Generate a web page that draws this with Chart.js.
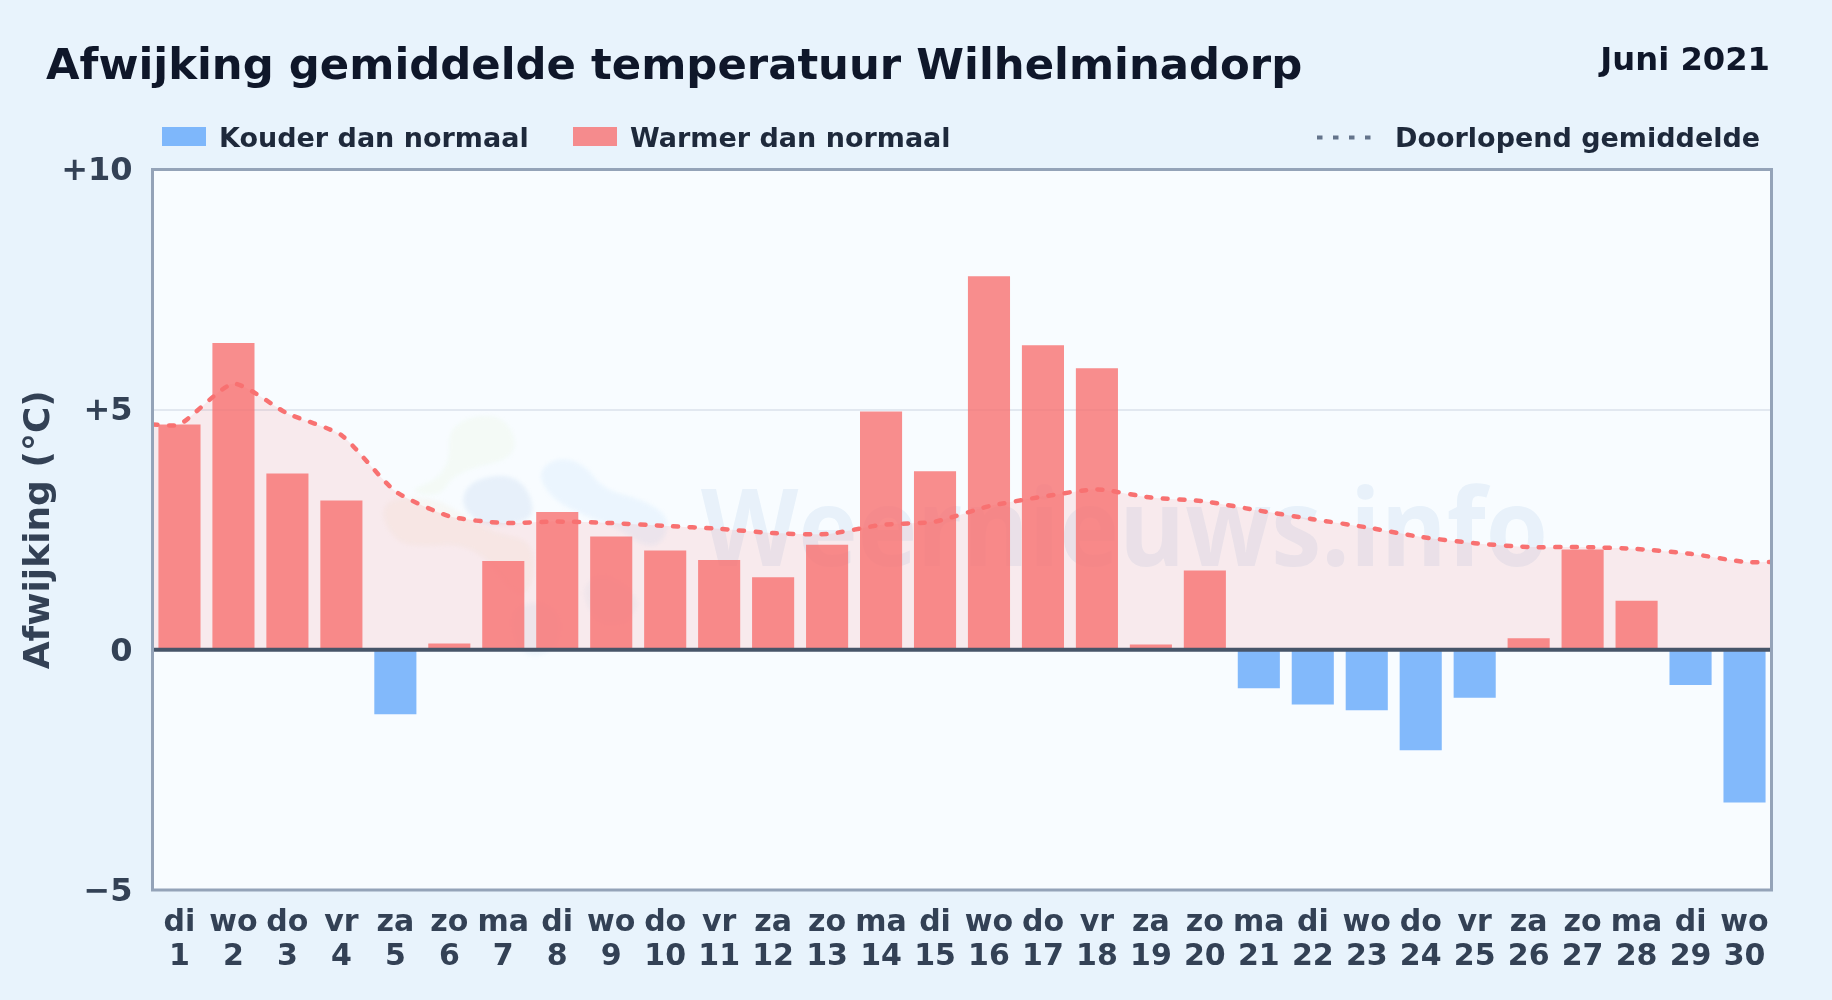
<!DOCTYPE html>
<html lang="nl">
<head>
<meta charset="utf-8">
<title>Afwijking gemiddelde temperatuur Wilhelminadorp</title>
<script src="https://cdn.jsdelivr.net/npm/chart.js@4"></script>
<style>
  html,body{margin:0;padding:0;width:1832px;height:1000px;overflow:hidden;background:#e8f3fc;font-family:"DejaVu Sans",sans-serif;font-weight:700}
  #wrap{position:relative;width:1832px;height:1000px}
  canvas{position:absolute;left:0;top:0}
  .t{position:absolute;white-space:nowrap;line-height:1}
  #title{left:46px;top:43px;font-size:43.35px;color:#0f172a}
  #month{right:62px;top:43px;font-size:32.2px;color:#0f172a}
  .lg{font-size:27px;color:#1e293b;top:123.5px}
  .sw{position:absolute;top:127px;width:43.5px;height:19px}
  #dots{position:absolute;left:1317px;top:134.5px}
</style>
</head>
<body>
<div id="wrap">
  <canvas id="c" width="1832" height="1000"></canvas>
  <div class="t" id="title">Afwijking gemiddelde temperatuur Wilhelminadorp</div>
  <div class="t" id="month">Juni 2021</div>
  <div class="sw" style="left:162px;background:rgba(96,165,250,.78)"></div>
  <div class="t lg" style="left:219px">Kouder dan normaal</div>
  <div class="sw" style="left:573px;background:rgba(248,113,113,.8)"></div>
  <div class="t lg" style="left:630px">Warmer dan normaal</div>
  <svg id="dots" width="60" height="5"><line x1="0" y1="2.5" x2="60" y2="2.5" stroke="#64748b" stroke-width="4" stroke-dasharray="5.5 10.5"/></svg>
  <div class="t lg" style="left:1395px">Doorlopend gemiddelde</div>
</div>
<script>
const weekdays = ['di','wo','do','vr','za','zo','ma','di','wo','do','vr','za','zo','ma','di','wo','do','vr','za','zo','ma','di','wo','do','vr','za','zo','ma','di','wo'];
const days = [1,2,3,4,5,6,7,8,9,10,11,12,13,14,15,16,17,18,19,20,21,22,23,24,25,26,27,28,29,30];
const deviation = [4.69,6.39,3.67,3.11,-1.34,0.13,1.85,2.87,2.36,2.07,1.87,1.51,2.19,4.96,3.72,7.78,6.34,5.86,0.11,1.65,-0.80,-1.14,-1.26,-2.09,-1.00,0.24,2.09,1.02,-0.73,-3.18];
const avgDays = [0.5,1,2,3,4,5,6,7,8,9,10,11,12,13,14,15,16,17,18,19,20,21,22,23,24,25,26,27,28,29,30,30.5];
const avgValues = [4.69,4.69,5.54,4.92,4.47,3.30,2.78,2.64,2.67,2.64,2.58,2.52,2.43,2.41,2.60,2.67,2.99,3.19,3.34,3.17,3.09,2.90,2.72,2.55,2.35,2.22,2.14,2.14,2.10,2.00,1.83,1.83];
const yTickLabels = {'10':'+10','5':'+5','0':'0','-5':'\u22125'};

const FONT = '"DejaVu Sans", sans-serif';

function blob(ctx, pts, color){
  const o = pts.map(p=>[360+p[0]/3, 400+p[1]/3]);
  ctx.beginPath();
  for(let i=0;i<o.length;i++){
    const a=o[i], b=o[(i+1)%o.length], m=[(a[0]+b[0])/2,(a[1]+b[1])/2];
    if(i===0){const z=o[o.length-1]; ctx.moveTo((z[0]+a[0])/2,(z[1]+a[1])/2);}
    ctx.quadraticCurveTo(a[0],a[1],m[0],m[1]);
  }
  ctx.closePath(); ctx.fillStyle=color; ctx.fill();
}
const backdrop = {
  id:'backdrop',
  beforeDraw(chart){
    const {ctx,chartArea:a}=chart;
    ctx.save();
    ctx.fillStyle='#f8fcff';
    ctx.fillRect(a.left,a.top,a.right-a.left,a.bottom-a.top);
    ctx.beginPath(); ctx.rect(a.left,a.top,a.right-a.left,a.bottom-a.top); ctx.clip();
    ctx.filter='blur(2px)';
    blob(ctx,[[265,90],[340,45],[430,50],[472,125],[445,180],[350,200],[275,230],[240,290],[140,275],[230,240],[270,180]],'rgba(225,240,200,.16)');
    blob(ctx,[[60,340],[100,290],[230,295],[300,340],[400,400],[520,420],[520,560],[470,590],[380,470],[290,430],[200,440],[110,430]],'rgba(240,220,175,.13)');
    blob(ctx,[[305,290],[340,240],[440,222],[500,260],[525,340],[480,370],[380,380],[320,340]],'rgba(150,185,225,.17)');
    blob(ctx,[[530,220],[590,172],[670,190],[730,270],[850,300],[925,350],[915,420],[860,445],[770,380],[680,350],[580,300]],'rgba(170,215,250,.17)');
    blob(ctx,[[660,570],[720,520],[800,560],[840,610],[800,670],[710,670]],'rgba(150,185,225,.09)');
    blob(ctx,[[450,640],[520,600],[600,640],[590,740],[540,770],[480,760]],'rgba(150,185,225,.1)');
    ctx.filter='none';
    ctx.font='700 108px "Open Sans", sans-serif';
    ctx.fillStyle='rgba(120,170,220,.13)';
    ctx.textBaseline='alphabetic';
    ctx.fillText('Weernieuws.info',701,566,847);
    ctx.restore();
  },
  afterDatasetsDraw(chart){
    const {ctx,chartArea:a,scales:{y}}=chart;
    ctx.save();
    ctx.strokeStyle='#475569'; ctx.lineWidth=4;
    ctx.beginPath(); ctx.moveTo(a.left,y.getPixelForValue(0)); ctx.lineTo(a.right,y.getPixelForValue(0)); ctx.stroke();
    ctx.strokeStyle='#94a3b8'; ctx.lineWidth=3;
    ctx.strokeRect(a.left,a.top,a.right-a.left,a.bottom-a.top);
    ctx.restore();
  }
};

new Chart(document.getElementById('c'),{
  data:{
    datasets:[
      {type:'line',label:'Doorlopend gemiddelde',order:1,
       data:avgDays.map((d,i)=>({x:d,y:avgValues[i]})),
       borderColor:'#f87171',borderWidth:4.5,borderDash:[5,11.5],borderCapStyle:'round',
       pointRadius:0,tension:0.2,fill:'origin',backgroundColor:'rgba(248,113,113,.13)'},
      {type:'bar',label:'Afwijking',order:2,
       data:days.map((d,i)=>({x:d,y:deviation[i]})),
       backgroundColor:deviation.map(v=>v<0?'rgba(96,165,250,.78)':'rgba(248,113,113,.8)'),
       borderWidth:0,barPercentage:0.78,categoryPercentage:1}
    ]
  },
  options:{
    responsive:false,animation:false,devicePixelRatio:1,
    layout:{padding:{top:169.5,right:60.5,bottom:0,left:0}},
    plugins:{legend:{display:false},title:{display:false},tooltip:{enabled:false}},
    scales:{
      x:{type:'linear',min:0.5,max:30.5,offset:false,
         grid:{display:false},border:{display:false},
         afterBuildTicks(s){s.ticks=days.map(d=>({value:d}));},
         ticks:{stepSize:1,color:'#334155',font:{family:FONT,weight:'700',size:30,lineHeight:1.133},padding:8,maxRotation:0,minRotation:0,autoSkip:false,
                callback:v=>[weekdays[v-1],String(v)]},
         afterFit(s){s.height=110;}},
      y:{min:-5,max:10,
         ticks:{stepSize:5,color:'#334155',font:{family:FONT,weight:'700',size:32},padding:20,labelOffset:2.5,callback:v=>yTickLabels[String(v)]},
         grid:{color:c=>c.tick.value===5?'#e2e8f0':'transparent',lineWidth:2,drawTicks:false},
         border:{display:false},
         title:{display:true,text:'Afwijking (°C)',color:'#334155',font:{family:FONT,weight:'700',size:36},padding:{top:18,bottom:0}},
         afterFit(s){s.width=152.5;}}
    }
  },
  plugins:[backdrop]
});
</script>
</body>
</html>
